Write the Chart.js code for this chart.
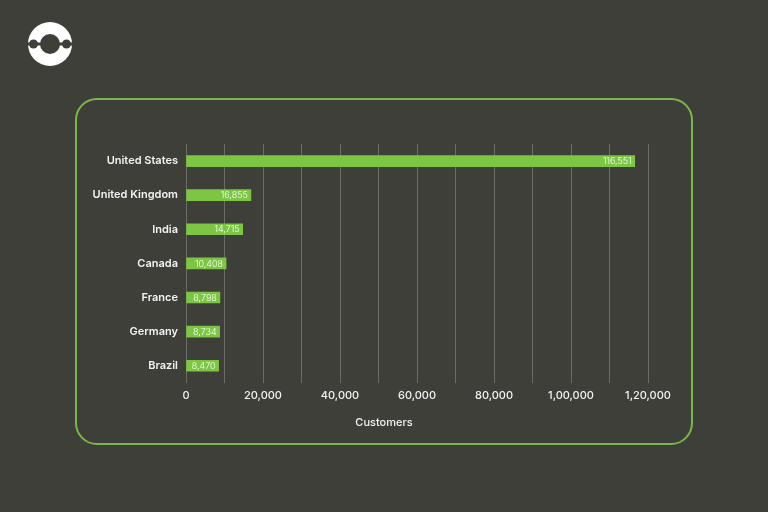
<!DOCTYPE html>
<html>
<head>
<meta charset="utf-8">
<script src="https://cdn.jsdelivr.net/npm/chart.js@4"></script>
<style>
  html, body { margin: 0; padding: 0; background: #3f3f39; }
  #wrap { position: relative; width: 768px; height: 512px; overflow: hidden; }
  #panel {
    position: absolute; left: 75px; top: 98px; width: 614px; height: 343px;
    border: 2px solid #78b84a; border-radius: 22px;
  }
  #logo { position: absolute; left: 27px; top: 21px; }
  canvas { position: absolute; left: 0; top: 0; }
</style>
</head>
<body>
<div id="wrap">
  <svg id="logo" width="46" height="46" viewBox="0 0 46 46">
    <circle cx="23" cy="23" r="22" fill="#ffffff"/>
    <circle cx="23" cy="23" r="10" fill="#3f3f39"/>
    <rect x="0" y="21.5" width="46" height="3" fill="#3f3f39"/>
    <circle cx="6.5" cy="23" r="4.5" fill="#3f3f39"/>
    <circle cx="39.5" cy="23" r="4.5" fill="#3f3f39"/>
  </svg>
  <div id="panel"></div>
  <canvas id="chart" width="768" height="512"></canvas>
</div>
<script>
// countries and customer counts
const countries = ['United States', 'United Kingdom', 'India', 'Canada', 'France', 'Germany', 'Brazil'];
const customers = [116551, 16855, 14715, 10408, 8798, 8734, 8470];
const xTicks = [0, 20000, 40000, 60000, 80000, 100000, 120000];
const xTitle = 'Customers';

const fontFamily = 'Inter, "Noto Sans", sans-serif';

// value text at the end of each bar, plus the axis title centred in the panel
const barValues = {
  id: 'barValues',
  afterDatasetsDraw(chart) {
    const ctx = chart.ctx;
    const meta = chart.getDatasetMeta(0);
    ctx.save();
    ctx.font = '300 9px ' + fontFamily;
    ctx.fillStyle = '#ffffff';
    ctx.textAlign = 'right';
    ctx.textBaseline = 'middle';
    meta.data.forEach((bar, i) => {
      ctx.fillText(customers[i].toLocaleString('en-US'), bar.x - 3, bar.y + 0.5);
    });
    ctx.font = '500 11px ' + fontFamily;
    ctx.fillStyle = '#f2f2f2';
    ctx.textAlign = 'center';
    ctx.fillText(xTitle, chart.width / 2, chart.scales.x.bottom + 15);
    ctx.restore();
  }
};

new Chart(document.getElementById('chart'), {
  type: 'bar',
  data: {
    labels: countries,
    datasets: [{
      data: customers,
      backgroundColor: '#7cc644',
      borderWidth: 0,
      barThickness: 11
    }]
  },
  options: {
    indexAxis: 'y',
    responsive: false,
    animation: false,
    layout: { padding: { top: 144, right: 120, bottom: 104, left: 0 } },
    plugins: { legend: { display: false }, tooltip: { enabled: false } },
    scales: {
      x: {
        min: 0,
        max: 120000,
        border: { display: false },
        grid: { color: '#6c6c65', lineWidth: 1, drawTicks: false },
        ticks: {
          stepSize: 10000,
          padding: 6,
          maxRotation: 0,
          autoSkip: false,
          color: '#f2f2f2',
          font: { family: fontFamily, size: 11, weight: '500' },
          callback: (v) => xTicks.includes(v) ? v.toLocaleString('en-IN') : ''
        }
      },
      y: {
        border: { display: false },
        grid: { display: false, drawTicks: false },
        afterFit: (s) => { s.width = 186; },
        ticks: {
          padding: 8,
          color: '#f2f2f2',
          font: { family: fontFamily, size: 11, weight: '600' }
        }
      }
    }
  },
  plugins: [barValues]
});
</script>
</body>
</html>
